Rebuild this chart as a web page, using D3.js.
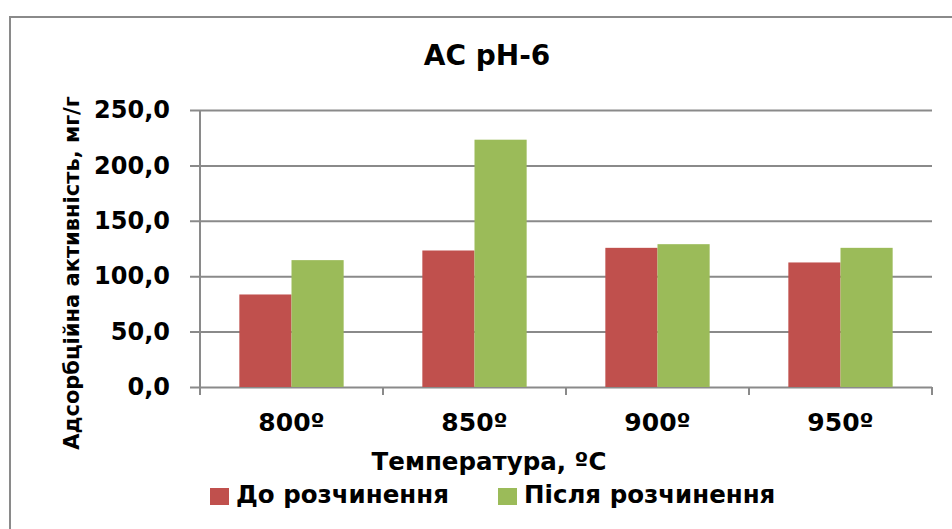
<!DOCTYPE html>
<html>
<head>
<meta charset="utf-8">
<script src="https://cdn.jsdelivr.net/npm/d3@7"></script>
<style>
  html, body { margin: 0; padding: 0; background: #fff; }
  svg { display: block; }
  text { font-family: "DejaVu Sans", sans-serif; font-weight: bold; fill: #000; }
</style>
</head>
<body>
<svg id="chart" width="952" height="529"></svg>
<script>
// Temperatures of activation and adsorption activity before / after dissolution
const categories = ["800º", "850º", "900º", "950º"];
const seriesNames = ["До розчинення", "Після розчинення"];
const beforeValues = [83.5, 123.2, 125.6, 112.4];
const afterValues = [114.5, 223.2, 128.9, 125.6];
const yTicks = [0, 50, 100, 150, 200, 250];
const colors = ["#C0504D", "#9BBB59"];

const svg = d3.select("#chart");
const W = 952, H = 529;
const plot = { left: 200, right: 932, top: 110, bottom: 387 };
const gridColor = "#8a8a8a";

// Outer chart frame (only the top and left edges fall inside the view)
svg.append("rect")
  .attr("x", 10).attr("y", 17)
  .attr("width", W + 20).attr("height", H + 20)
  .attr("fill", "#fff")
  .attr("stroke", gridColor).attr("stroke-width", 2);

const x0 = d3.scaleBand()
  .domain(categories)
  .range([plot.left, plot.right])
  .paddingInner(0.43)
  .paddingOuter(0.215);

const x1 = d3.scaleBand()
  .domain(seriesNames)
  .range([0, x0.bandwidth()])
  .padding(0);

const y = d3.scaleLinear()
  .domain([0, 250])
  .range([plot.bottom, plot.top]);

// Horizontal gridlines with short outer ticks
const yAxis = d3.axisLeft(y)
  .tickValues(yTicks)
  .tickSize(-(plot.right - plot.left))
  .tickSizeOuter(0)
  .tickPadding(30)
  .tickFormat(d => d3.format(".1f")(d).replace(".", ","));

const gy = svg.append("g")
  .attr("transform", `translate(${plot.left},0)`)
  .call(yAxis);
gy.select(".domain").remove();
gy.selectAll(".tick line")
  .attr("x1", -10)
  .attr("stroke", gridColor)
  .attr("stroke-width", 2);
gy.selectAll(".tick text")
  .attr("font-size", 24)
  .attr("font-family", "DejaVu Sans")
  .attr("font-weight", "bold")
  .attr("fill", "#000");

// Vertical axis line
svg.append("line")
  .attr("x1", plot.left).attr("x2", plot.left)
  .attr("y1", plot.top).attr("y2", plot.bottom + 8)
  .attr("stroke", gridColor).attr("stroke-width", 2);

// Bars
const data = categories.map((c, i) => ({
  cat: c,
  vals: [
    { name: seriesNames[0], v: beforeValues[i], color: colors[0] },
    { name: seriesNames[1], v: afterValues[i], color: colors[1] }
  ]
}));

const groups = svg.append("g").selectAll("g")
  .data(data)
  .join("g")
  .attr("transform", d => `translate(${x0(d.cat)},0)`);

groups.selectAll("rect")
  .data(d => d.vals)
  .join("rect")
  .attr("x", d => x1(d.name))
  .attr("y", d => y(d.v))
  .attr("width", x1.bandwidth())
  .attr("height", d => y(0) - y(d.v))
  .attr("fill", d => d.color);

// Category axis with boundary ticks between groups
const step = x0.step();
const boundaries = d3.range(categories.length + 1).map(i => plot.left + i * step);
svg.append("g").selectAll("line")
  .data(boundaries)
  .join("line")
  .attr("x1", d => d).attr("x2", d => d)
  .attr("y1", plot.bottom).attr("y2", plot.bottom + 8)
  .attr("stroke", gridColor).attr("stroke-width", 2);

svg.append("g").selectAll("text")
  .data(categories)
  .join("text")
  .attr("x", d => x0(d) + x0.bandwidth() / 2)
  .attr("y", 431)
  .attr("text-anchor", "middle")
  .attr("font-size", 25)
  .text(d => d);

// Title
svg.append("text")
  .attr("x", 487).attr("y", 65)
  .attr("text-anchor", "middle")
  .attr("font-size", 28)
  .text("АС pH-6");

// Axis titles
svg.append("text")
  .attr("x", 489).attr("y", 470)
  .attr("text-anchor", "middle")
  .attr("font-size", 24.5)
  .text("Температура, ºС");

svg.append("text")
  .attr("transform", "translate(79,273) rotate(-90)")
  .attr("text-anchor", "middle")
  .attr("font-size", 21)
  .text("Адсорбційна активність, мг/г");

// Legend
const legendX = [210, 498];
const legend = svg.append("g").selectAll("g")
  .data(seriesNames)
  .join("g")
  .attr("transform", (d, i) => `translate(${legendX[i]},488)`);
legend.append("rect")
  .attr("width", 19).attr("height", 17)
  .attr("fill", (d, i) => colors[i]);
legend.append("text")
  .attr("x", 26).attr("y", 15)
  .attr("font-size", 24.5)
  .text(d => d);
</script>
</body>
</html>
